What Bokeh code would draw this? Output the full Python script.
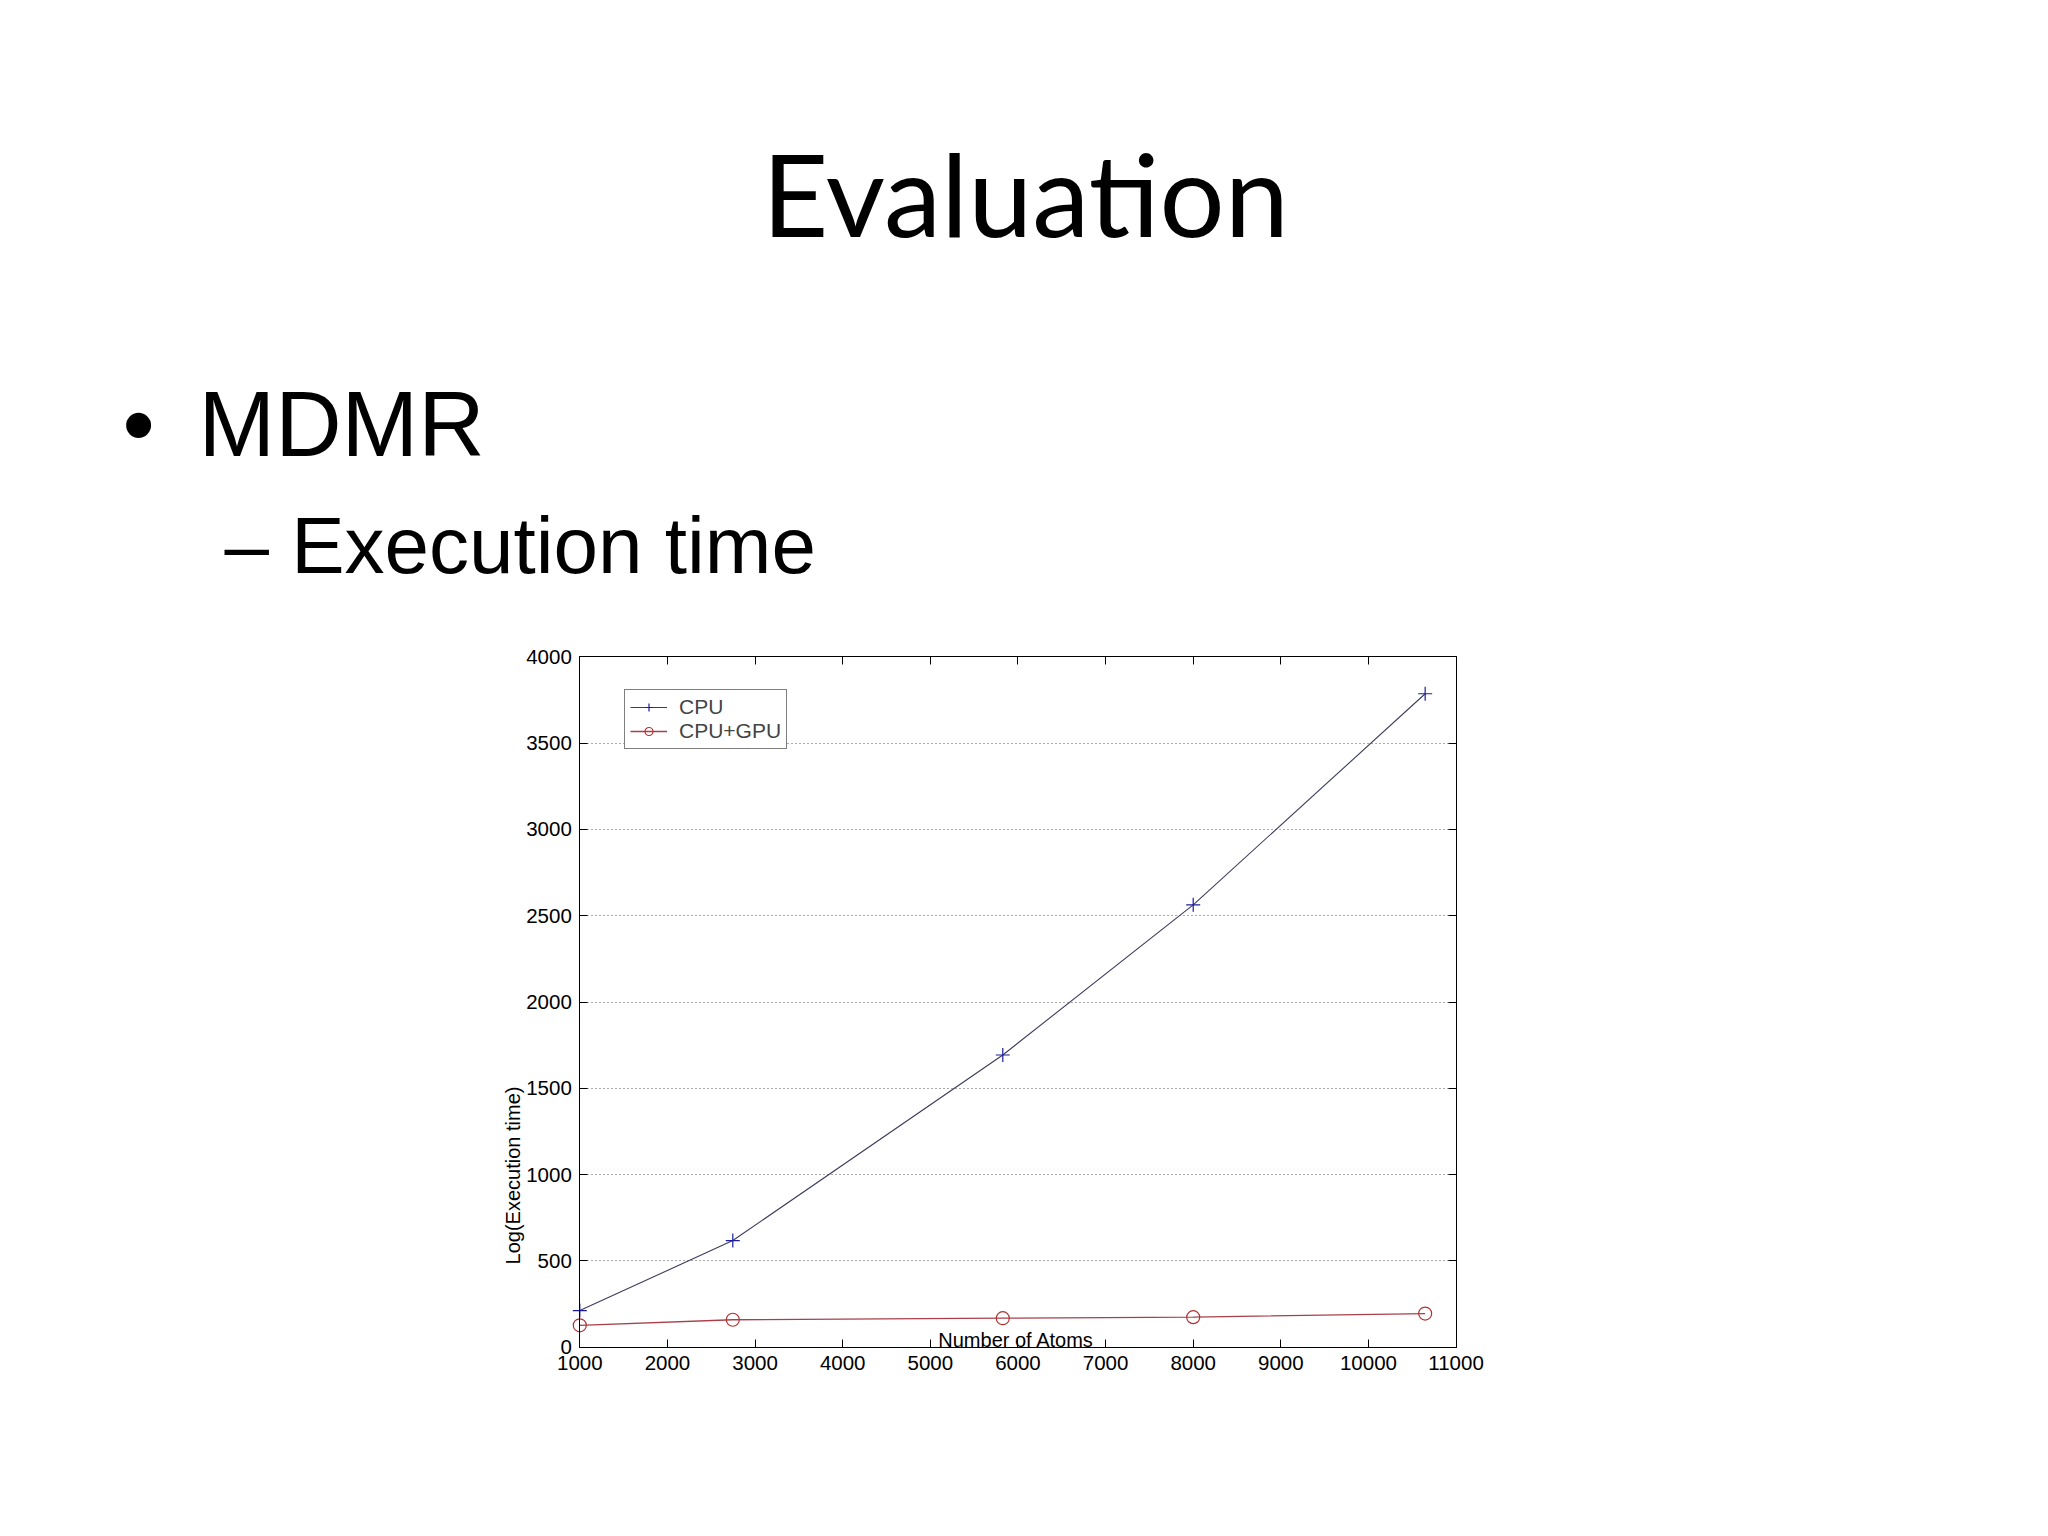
import math
from bokeh.plotting import figure
from bokeh.models import (LinearAxis, FixedTicker, Label, Legend, LegendItem,
                          Range1d, Grid)
from bokeh.embed import file_html
from bokeh.resources import INLINE

# ---- data ----
atoms = [1000, 2746, 5827, 8000, 10647]
cpu_time = [212, 618, 1693, 2563, 3786]
gpu_time = [127, 159, 168, 174, 195]
x_ticks = [1000, 2000, 3000, 4000, 5000, 6000, 7000, 8000, 9000, 10000, 11000]
y_ticks = [0, 500, 1000, 1500, 2000, 2500, 3000, 3500, 4000]
series_names = ["CPU", "CPU+GPU"]

title_text = "Evaluation"
bullet_text = "MDMR"
sub_text = "\u2013 Execution time"
x_label = "Number of Atoms"
y_label = "Log(Execution time)"

# ---- layout constants (pixels on the page) ----
W, H = 2032, 1520
X_LO, X_HI = x_ticks[0], x_ticks[-1]
Y_LO, Y_HI = y_ticks[0], y_ticks[-1]
PX_LO, PX_HI = 579.3, 1455.6      # pixel x of X_LO / X_HI
PY_LO, PY_HI = 1346.7, 656.3      # pixel y of Y_LO / Y_HI
kx = (X_HI - X_LO) / (PX_HI - PX_LO)
ky = (Y_HI - Y_LO) / (PY_LO - PY_HI)
x_range = Range1d(X_LO - PX_LO * kx, X_LO + (W - PX_LO) * kx)
y_range = Range1d(Y_LO - (H - PY_LO) * ky, Y_LO + PY_LO * ky)

p = figure(width=W, height=H, output_backend="svg", toolbar_location=None,
           x_range=x_range, y_range=y_range,
           x_axis_type=None, y_axis_type=None, min_border=0)
p.outline_line_color = None
p.background_fill_color = "white"
p.border_fill_color = "white"

TF = "Liberation Sans"


def mk_axis(ticks, labels, loc, bounds):
    ax = LinearAxis(ticker=FixedTicker(ticks=ticks), fixed_location=loc,
                    bounds=bounds,
                    major_tick_in=8, major_tick_out=0,
                    minor_tick_in=0, minor_tick_out=0,
                    minor_tick_line_color=None,
                    axis_line_color="black", major_tick_line_color="black",
                    major_label_text_font=TF,
                    major_label_text_font_size="20.5px",
                    major_label_text_color="black", major_label_standoff=9)
    if not labels:
        ax.major_label_overrides = {t: "" for t in ticks}
        ax.major_label_standoff = 0
    return ax


# grid (dotted horizontal lines, limited to the chart box)
if "cross_bounds" in Grid.properties():
    p.add_layout(Grid(dimension=1, ticker=FixedTicker(ticks=y_ticks[1:-1]),
                      cross_bounds=(X_LO, X_HI), grid_line_color="#555555",
                      grid_line_dash="1 3", grid_line_width=1))
else:
    p.segment(x0=[X_LO] * len(y_ticks[1:-1]), x1=[X_HI] * len(y_ticks[1:-1]),
              y0=y_ticks[1:-1], y1=y_ticks[1:-1], line_color="#555555",
              line_dash="1 3", line_width=1)

bx = mk_axis(x_ticks, True, Y_LO, (X_LO, X_HI))
ly = mk_axis(y_ticks, True, X_LO, (Y_LO, Y_HI))
ly.major_label_standoff = 8
p.add_layout(bx, "below")
p.add_layout(ly, "left")
p.add_layout(mk_axis(x_ticks, False, Y_HI, (X_LO, X_HI)), "above")
p.add_layout(mk_axis(y_ticks, False, X_HI, (Y_LO, Y_HI)), "right")

l1 = p.line(atoms, cpu_time, line_color="#3c3c5c", line_width=1.1)
s1 = p.scatter(atoms, cpu_time, marker="cross", size=14,
               line_color="#1c1c9c", line_width=1.2)
l2 = p.line(atoms, gpu_time, line_color="#a8404c", line_width=1.3)
s2 = p.scatter(atoms, gpu_time, marker="circle", size=13, fill_color=None,
               line_color="#b03030", line_width=1.2)

legend = Legend(items=[LegendItem(label=series_names[0], renderers=[l1, s1]),
                       LegendItem(label=series_names[1], renderers=[l2, s2])],
                location=(624, H - 749), margin=0, padding=5, spacing=0,
                glyph_width=37, glyph_height=20, label_height=20,
                label_standoff=12, label_text_font=TF,
                label_text_font_size="21px",
                border_line_color="black", border_line_width=1,
                background_fill_color="white", background_fill_alpha=1)
p.add_layout(legend, "center")


def lab(px, py, text, font, size, align="left", baseline="alphabetic",
        angle=0.0):
    return Label(x=px, y=H - py, x_units="screen", y_units="screen",
                 text=text, text_font=font, text_font_size=size,
                 text_align=align, text_baseline=baseline, angle=angle,
                 text_color="black")


# axis titles (MATLAB placement)
p.add_layout(Label(x=5979, y=42, text=x_label, text_font=TF,
                   text_font_size="20px", text_align="center",
                   text_baseline="alphabetic", text_color="black"))
p.add_layout(lab(512, 1175, y_label, TF, "20px", align="center",
                 baseline="middle", angle=math.pi / 2))

# slide texts
p.add_layout(lab(1025, 191, title_text, "Lato", "115px", align="center"))
p.add_layout(lab(122, 423, "\u2022", TF, "92px"))
p.add_layout(lab(198, 423, bullet_text, TF, "92px"))
p.add_layout(lab(224, 545, sub_text, TF, "80px"))

open("out.html", "w").write(file_html(p, INLINE))
